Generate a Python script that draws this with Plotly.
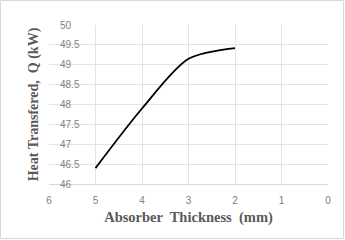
import plotly.graph_objects as go

thickness = [5, 4, 3, 2]
heat = [46.40, 47.90, 49.15, 49.42]
x_ticks = [6, 5, 4, 3, 2, 1, 0]
y_ticks = [46, 46.5, 47, 47.5, 48, 48.5, 49, 49.5, 50]
y_labels = ["46", "46.5", "47", "47.5", "48", "48.5", "49", "49.5", "50"]

W, H = 345, 240
L, R, T, B = 49, 17, 25, 56

fig = go.Figure()
fig.add_trace(go.Scatter(
    x=thickness, y=heat, mode="lines",
    line=dict(color="black", width=1.8, shape="spline", smoothing=0.8),
    showlegend=False, hoverinfo="skip"))

pw, ph = W - L - R, H - T - B
fig.add_shape(type="rect", xref="paper", yref="paper",
              x0=(0.5 - L) / pw, x1=(W - 1.5 - L) / pw,
              y0=-(H - 1.5 - T - ph) / ph, y1=(T - 0.5) / ph + 1,
              line=dict(color="#d9d9d9", width=1), layer="below")

fig.update_layout(
    width=W, height=H,
    margin=dict(l=L, r=R, t=T, b=B, autoexpand=False),
    paper_bgcolor="white", plot_bgcolor="white",
    font=dict(family="Liberation Sans, Arial", color="#595959"),
    xaxis=dict(range=[6, 0], tickvals=x_ticks, showgrid=True,
               gridcolor="#e4e4e4", gridwidth=1, zeroline=False,
               showline=True, linecolor="#d9d9d9", linewidth=1,
               ticks="", ticklabelstandoff=7, automargin=False,
               ticklabeloverflow="allow",
               tickfont=dict(size=10, color="#7f7f7f"),
               title=dict(text="Absorber  Thickness  (mm)", standoff=6,
                          font=dict(family="Liberation Serif, Times New Roman",
                                    size=14.5, color="#595959", weight="bold"))),
    yaxis=dict(range=[46, 50], tickvals=y_ticks, ticktext=y_labels,
               showgrid=True, gridcolor="#e4e4e4", gridwidth=1,
               zeroline=False, showline=False, ticks="", automargin=False,
               ticklabelposition="inside", ticklabelstandoff=8,
               ticklabeloverflow="allow",
               tickfont=dict(size=10, color="#7f7f7f"),
               title=dict(text="Heat Transfered,  Q (kW)", standoff=18,
                          font=dict(family="Liberation Serif, Times New Roman",
                                    size=14, color="#595959", weight="bold"))),
)
fig.write_html("out.html", config={"displayModeBar": False},
               post_script="document.body.style.margin='0px';document.body.style.overflow='hidden';")
